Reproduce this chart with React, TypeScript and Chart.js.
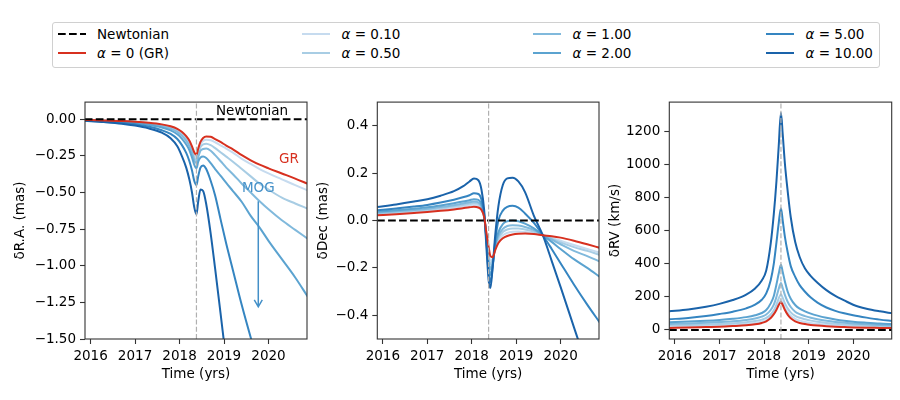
import { useEffect, useRef } from "react";
import { Chart, registerables } from "chart.js";

Chart.register(...registerables);

const FONT = "'DejaVu Sans', Verdana, sans-serif";

// shared time grid (yrs) for every curve
const TIMES = [
  2015.87, 2016.3, 2016.7, 2017.0, 2017.3, 2017.6, 2017.8, 2017.95, 2018.05, 2018.15,
  2018.22, 2018.28, 2018.33, 2018.38, 2018.42, 2018.47, 2018.53, 2018.6, 2018.7, 2018.8,
  2018.92, 2019.05, 2019.2, 2019.4, 2019.6, 2019.8, 2020.0, 2020.3, 2020.6, 2020.88,
];
const X_MIN = 2015.875;
const X_MAX = 2020.865;
const YEAR_TICKS = [2016, 2017, 2018, 2019, 2020];
const PERIAPSE = 2018.38;

const NEWTON_T = [2015.87, 2020.88];
const NEWTON_Y = [0, 0];

const ALPHA_LABELS = ["0.10", "0.50", "1.00", "2.00", "5.00", "10.00"];
const ALPHA_COLORS = ["#c6dbef", "#a8cde4", "#80b9dc", "#5ba3d0", "#3585c1", "#1a63aa"];
const GR_COLOR = "#d7301f";
const MOG_COLOR = "#4490c8";

// delta R.A. (mas)
const RA_GR = [-0.005, -0.008, -0.012, -0.017, -0.024, -0.035, -0.048, -0.065, -0.085, -0.115, -0.145, -0.185, -0.225, -0.243, -0.2, -0.155, -0.128, -0.117, -0.12, -0.135, -0.155, -0.18, -0.205, -0.245, -0.28, -0.31, -0.335, -0.37, -0.405, -0.44];
const RA_A010 = [-0.005, -0.009, -0.013, -0.018, -0.026, -0.038, -0.052, -0.07, -0.09, -0.122, -0.155, -0.195, -0.24, -0.26, -0.215, -0.17, -0.148, -0.14, -0.143, -0.157, -0.178, -0.2, -0.228, -0.27, -0.305, -0.34, -0.37, -0.41, -0.45, -0.485];
const RA_A050 = [-0.006, -0.01, -0.014, -0.02, -0.029, -0.042, -0.057, -0.077, -0.1, -0.133, -0.167, -0.21, -0.26, -0.28, -0.235, -0.19, -0.172, -0.167, -0.177, -0.197, -0.225, -0.255, -0.29, -0.34, -0.39, -0.44, -0.48, -0.535, -0.575, -0.61];
const RA_A100 = [-0.007, -0.011, -0.016, -0.022, -0.032, -0.047, -0.064, -0.087, -0.112, -0.148, -0.183, -0.228, -0.28, -0.3, -0.26, -0.215, -0.203, -0.2, -0.215, -0.245, -0.285, -0.33, -0.375, -0.44, -0.5, -0.56, -0.615, -0.69, -0.755, -0.815];
const RA_A200 = [-0.008, -0.013, -0.019, -0.026, -0.038, -0.056, -0.076, -0.103, -0.132, -0.172, -0.21, -0.26, -0.31, -0.335, -0.29, -0.262, -0.255, -0.265, -0.3, -0.34, -0.385, -0.435, -0.49, -0.565, -0.66, -0.74, -0.83, -0.955, -1.08, -1.21];
const RA_A500 = [-0.009, -0.016, -0.024, -0.034, -0.05, -0.075, -0.1, -0.135, -0.175, -0.23, -0.285, -0.35, -0.42, -0.45, -0.39, -0.33, -0.315, -0.34, -0.42, -0.52, -0.68, -0.85, -1.03, -1.27, -1.49, -1.7, -1.9, -2.2, -2.5, -2.8];
const RA_A1000 = [-0.01, -0.019, -0.03, -0.043, -0.062, -0.092, -0.13, -0.185, -0.25, -0.33, -0.41, -0.5, -0.6, -0.65, -0.56, -0.48, -0.49, -0.58, -0.78, -1.02, -1.32, -1.65, -2.0, -2.5, -3.0, -3.5, -4.0, -4.7, -5.4, -6.1];

// delta Dec (mas)
const DEC_GR = [0.022, 0.027, 0.032, 0.036, 0.041, 0.047, 0.052, 0.056, 0.058, 0.055, 0.045, 0.015, -0.05, -0.11, -0.15, -0.155, -0.125, -0.095, -0.075, -0.065, -0.059, -0.056, -0.055, -0.057, -0.062, -0.066, -0.072, -0.085, -0.1, -0.115];
const DEC_A010 = [0.026, 0.031, 0.037, 0.041, 0.047, 0.054, 0.06, 0.064, 0.067, 0.064, 0.05, 0.015, -0.06, -0.14, -0.17, -0.162, -0.12, -0.085, -0.062, -0.052, -0.047, -0.046, -0.048, -0.053, -0.062, -0.073, -0.085, -0.103, -0.12, -0.135];
const DEC_A050 = [0.03, 0.035, 0.041, 0.046, 0.052, 0.06, 0.066, 0.071, 0.074, 0.071, 0.055, 0.017, -0.065, -0.155, -0.185, -0.165, -0.115, -0.075, -0.048, -0.038, -0.034, -0.034, -0.038, -0.047, -0.062, -0.076, -0.092, -0.112, -0.128, -0.145];
const DEC_A100 = [0.033, 0.039, 0.045, 0.05, 0.057, 0.065, 0.072, 0.077, 0.08, 0.077, 0.06, 0.018, -0.07, -0.17, -0.205, -0.175, -0.11, -0.065, -0.035, -0.023, -0.02, -0.021, -0.027, -0.04, -0.062, -0.08, -0.1, -0.128, -0.15, -0.173];
const DEC_A200 = [0.037, 0.043, 0.05, 0.056, 0.064, 0.073, 0.08, 0.086, 0.09, 0.087, 0.068, 0.022, -0.075, -0.19, -0.23, -0.19, -0.105, -0.05, -0.015, -0.003, 0.0, -0.003, -0.013, -0.033, -0.062, -0.09, -0.12, -0.163, -0.2, -0.237];
const DEC_A500 = [0.043, 0.051, 0.059, 0.066, 0.076, 0.088, 0.098, 0.107, 0.115, 0.112, 0.088, 0.028, -0.085, -0.22, -0.26, -0.2, -0.085, 0.0, 0.042, 0.058, 0.062, 0.055, 0.03, -0.01, -0.062, -0.12, -0.18, -0.27, -0.355, -0.43];
const DEC_A1000 = [0.057, 0.068, 0.08, 0.09, 0.105, 0.124, 0.144, 0.165, 0.177, 0.17, 0.13, 0.045, -0.11, -0.25, -0.285, -0.2, -0.06, 0.06, 0.15, 0.178, 0.181, 0.165, 0.12, 0.02, -0.062, -0.17, -0.28, -0.45, -0.62, -0.8];

// delta RV (km/s)
const RV_GR = [12, 14, 17, 19, 23, 28, 34, 42, 52, 72, 95, 122, 150, 168, 150, 120, 92, 70, 52, 42, 35, 30, 26, 22, 19, 17, 15, 13, 12, 11];
const RV_A010 = [20, 22, 25, 28, 31, 36, 42, 49, 58, 76, 98, 128, 160, 180, 162, 133, 106, 85, 67, 56, 48, 42, 37, 32, 28, 25, 23, 20, 18, 16];
const RV_A050 = [28, 30, 33, 36, 40, 46, 53, 62, 72, 93, 118, 153, 190, 215, 193, 160, 130, 106, 85, 73, 64, 56, 49, 42, 37, 33, 30, 26, 24, 22];
const RV_A100 = [36, 39, 43, 47, 52, 60, 69, 80, 93, 120, 152, 200, 248, 283, 252, 210, 170, 138, 110, 95, 83, 73, 64, 55, 48, 43, 39, 34, 30, 28];
const RV_A200 = [46, 50, 55, 60, 67, 77, 88, 102, 120, 160, 205, 275, 340, 393, 350, 290, 232, 188, 150, 128, 112, 98, 86, 73, 63, 55, 49, 43, 38, 35];
const RV_A500 = [64, 72, 84, 96, 110, 130, 152, 182, 220, 300, 400, 530, 645, 735, 660, 560, 470, 385, 320, 270, 230, 195, 165, 135, 115, 100, 88, 74, 62, 54];
const RV_A1000 = [112, 123, 140, 157, 180, 213, 250, 298, 358, 520, 700, 900, 1110, 1310, 1180, 1000, 840, 680, 530, 440, 370, 325, 285, 240, 205, 178, 152, 128, 112, 100];

const RA_TICKS = [0, -0.25, -0.5, -0.75, -1, -1.25, -1.5];
const DEC_TICKS = [0.4, 0.2, 0, -0.2, -0.4];
const RV_TICKS = [0, 200, 400, 600, 800, 1000, 1200];

// annotations in the R.A. panel (data coords)
const NEWT_NOTE = { x: 2019.63, y: 0.056 };
const GR_NOTE = { x: 2020.46, y: -0.277 };
const MOG_NOTE = { x: 2019.77, y: -0.476 };
const MOG_ARROW = { x: 2019.77, from: -0.56, to: -1.28 };

const fmt = (v: number, d: number) => (v < 0 ? "\u2212" : "") + Math.abs(v).toFixed(d);

const framePlugin = {
  id: "frame",
  afterDatasetsDraw(chart: any) {
    const { ctx, chartArea: a } = chart;
    ctx.save();
    ctx.strokeStyle = "#333";
    ctx.lineWidth = 1.1;
    ctx.strokeRect(a.left, a.top, a.right - a.left, a.bottom - a.top);
    ctx.restore();
  },
};

const notesPlugin = {
  id: "notes",
  afterDatasetsDraw(chart: any) {
    const { ctx, scales } = chart;
    const { x, y } = scales;
    ctx.save();
    ctx.font = `13.5px ${FONT}`;
    ctx.textAlign = "center";
    ctx.textBaseline = "middle";
    ctx.fillStyle = "#000";
    ctx.fillText("Newtonian", x.getPixelForValue(NEWT_NOTE.x), y.getPixelForValue(NEWT_NOTE.y));
    ctx.fillStyle = GR_COLOR;
    ctx.fillText("GR", x.getPixelForValue(GR_NOTE.x), y.getPixelForValue(GR_NOTE.y));
    ctx.fillStyle = MOG_COLOR;
    ctx.fillText("MOG", x.getPixelForValue(MOG_NOTE.x), y.getPixelForValue(MOG_NOTE.y));
    const ax = x.getPixelForValue(MOG_ARROW.x);
    const y0 = y.getPixelForValue(MOG_ARROW.from);
    const y1 = y.getPixelForValue(MOG_ARROW.to);
    ctx.strokeStyle = MOG_COLOR;
    ctx.lineWidth = 1.5;
    ctx.beginPath();
    ctx.moveTo(ax, y0);
    ctx.lineTo(ax, y1);
    ctx.moveTo(ax - 4, y1 - 7);
    ctx.lineTo(ax, y1);
    ctx.lineTo(ax + 4, y1 - 7);
    ctx.stroke();
    ctx.restore();
  },
};

type PanelSpec = {
  yLabel: string;
  yTicks: number[];
  yMin: number;
  yMax: number;
  digits: number;
  gr: number[];
  alphas: number[][];
  left: number;
  width: number;
  axisWidth: number;
  padRight: number;
  titlePad: number;
  notes?: boolean;
};

const PANELS: PanelSpec[] = [
  {
    yLabel: "\u03b4R.A. (mas)", yTicks: RA_TICKS, yMin: -1.5, yMax: 0.117, digits: 2,
    gr: RA_GR, alphas: [RA_A010, RA_A050, RA_A100, RA_A200, RA_A500, RA_A1000],
    left: 0, width: 320, axisWidth: 85, padRight: 13, titlePad: 12, notes: true,
  },
  {
    yLabel: "\u03b4Dec (mas)", yTicks: DEC_TICKS, yMin: -0.5, yMax: 0.5, digits: 1,
    gr: DEC_GR, alphas: [DEC_A010, DEC_A050, DEC_A100, DEC_A200, DEC_A500, DEC_A1000],
    left: 300, width: 310, axisWidth: 77.3, padRight: 11, titlePad: 15,
  },
  {
    yLabel: "\u03b4RV (km/s)", yTicks: RV_TICKS, yMin: -55, yMax: 1375, digits: 0,
    gr: RV_GR, alphas: [RV_A010, RV_A050, RV_A100, RV_A200, RV_A500, RV_A1000],
    left: 590, width: 310, axisWidth: 79.3, padRight: 8.3, titlePad: 17,
  },
];

function Panel({ spec }: { spec: PanelSpec }) {
  const canvasRef = useRef<HTMLCanvasElement>(null);

  useEffect(() => {
    if (!canvasRef.current) return;
    const pts = (ys: number[]) => TIMES.map((t, i) => ({ x: t, y: ys[i] }));
    const curve = (ys: number[], color: string) => ({
      data: pts(ys),
      borderColor: color,
      borderWidth: 2,
      pointRadius: 0,
      fill: false,
      cubicInterpolationMode: "monotone",
    });
    const tickFont = { family: FONT, size: 13.5 };

    const chart = new Chart(canvasRef.current, {
      type: "line",
      data: {
        datasets: [
          {
            data: [{ x: PERIAPSE, y: spec.yMin }, { x: PERIAPSE, y: spec.yMax }],
            borderColor: "#b0b0b0",
            borderWidth: 1.2,
            borderDash: [5, 2.2],
            pointRadius: 0,
          },
          {
            data: NEWTON_T.map((t, i) => ({ x: t, y: NEWTON_Y[i] })),
            borderColor: "#000",
            borderWidth: 2,
            borderDash: [7.7, 3.3],
            pointRadius: 0,
          },
          curve(spec.gr, GR_COLOR),
          ...spec.alphas.map((ys, i) => curve(ys, ALPHA_COLORS[i])).reverse(),
        ] as any,
      },
      options: {
        animation: false,
        responsive: true,
        maintainAspectRatio: false,
        layout: { padding: { top: 10, right: spec.padRight, left: 0, bottom: 0 } },
        plugins: { legend: { display: false }, tooltip: { enabled: false } },
        scales: {
          x: {
            type: "linear",
            min: X_MIN,
            max: X_MAX,
            afterBuildTicks: (s: any) => {
              s.ticks = YEAR_TICKS.map((v) => ({ value: v }));
            },
            afterFit: (s: any) => {
              s.height = 61;
            },
            grid: { drawOnChartArea: false, tickLength: 5, tickColor: "#333", tickWidth: 1.1 },
            border: { display: false },
            ticks: {
              color: "#000",
              font: tickFont,
              padding: 4,
              maxRotation: 0,
              autoSkip: false,
              callback: (v: any) => String(v),
            },
            title: {
              display: true,
              text: "Time (yrs)",
              color: "#000",
              font: tickFont,
              padding: { top: 0, bottom: 17 },
            },
          },
          y: {
            type: "linear",
            min: spec.yMin,
            max: spec.yMax,
            afterBuildTicks: (s: any) => {
              s.ticks = spec.yTicks.map((v) => ({ value: v }));
            },
            afterFit: (s: any) => {
              s.width = spec.axisWidth;
            },
            grid: { drawOnChartArea: false, tickLength: 5, tickColor: "#333", tickWidth: 1.1 },
            border: { display: false },
            ticks: {
              color: "#000",
              font: tickFont,
              padding: 4,
              autoSkip: false,
              callback: (v: any) => fmt(Number(v), spec.digits),
            },
            title: {
              display: true,
              text: spec.yLabel,
              color: "#000",
              font: tickFont,
              padding: { top: spec.titlePad, bottom: 0 },
            },
          },
        },
      } as any,
      plugins: spec.notes ? [framePlugin, notesPlugin] : [framePlugin],
    });

    return () => chart.destroy();
  }, [spec]);

  return (
    <div style={{ position: "absolute", left: spec.left, top: 90, width: spec.width, height: 310 }}>
      <canvas ref={canvasRef} />
    </div>
  );
}

const LEGEND_COLS = [4.5, 249, 480, 713];
const LEGEND_ROWS = [10.8, 29.8];

function Legend() {
  const items = [
    { text: <>Newtonian</>, color: "#000", dash: "7.7 3.3" },
    { text: <><i>α</i> = 0 (GR)</>, color: GR_COLOR, dash: undefined },
    ...ALPHA_LABELS.map((lab, i) => ({
      text: <><i>α</i> = {lab}</>,
      color: ALPHA_COLORS[i],
      dash: undefined,
    })),
  ];
  return (
    <div
      style={{
        position: "absolute",
        left: 52,
        top: 22,
        width: 828,
        height: 46,
        boxSizing: "border-box",
        border: "1px solid #d0d0d0",
        borderRadius: 3,
        fontFamily: FONT,
        fontSize: 13.5,
        color: "#000",
      }}
    >
      {items.map((it, i) => (
        <div
          key={i}
          style={{
            position: "absolute",
            left: LEGEND_COLS[Math.floor(i / 2)],
            top: LEGEND_ROWS[i % 2] - 10,
            height: 20,
            display: "flex",
            alignItems: "center",
            whiteSpace: "nowrap",
          }}
        >
          <svg width={28} height={4} style={{ marginRight: 11.5 }}>
            <line x1={0} y1={2} x2={28} y2={2} stroke={it.color} strokeWidth={2} strokeDasharray={it.dash} />
          </svg>
          <span>{it.text}</span>
        </div>
      ))}
    </div>
  );
}

export default function App() {
  return (
    <div style={{ position: "absolute", left: 0, top: 0, width: 900, height: 400, background: "#fff" }}>
      <Legend />
      {PANELS.map((p, i) => (
        <Panel key={i} spec={p} />
      ))}
    </div>
  );
}
